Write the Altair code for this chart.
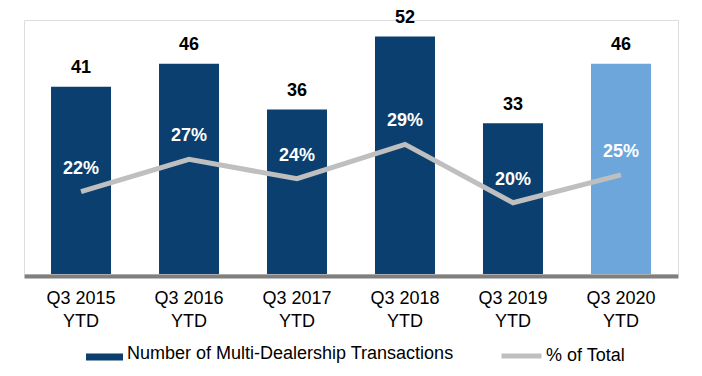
import altair as alt
import pandas as pd

periods = ["Q3 2015 YTD", "Q3 2016 YTD", "Q3 2017 YTD", "Q3 2018 YTD", "Q3 2019 YTD", "Q3 2020 YTD"]
transactions = [41, 46, 36, 52, 33, 46]
pct_of_total = [22.0, 27.0, 24.0, 29.3, 20.3, 24.6]

BAR_SERIES = "Number of Multi-Dealership Transactions"
LINE_SERIES = "% of Total"
NAVY = "#0B3F6F"
LIGHT = "#6CA6DA"
GRAY = "#BFBFBF"
FONT = "Liberation Sans"

df = pd.DataFrame({
    "period": periods,
    "count": transactions,
    "pct": pct_of_total,
    "bar_series": [BAR_SERIES] * len(periods),
    "line_series": [LINE_SERIES] * len(periods),
})

x_enc = alt.X(
    "period:N",
    sort=periods,
    title=None,
    scale=alt.Scale(paddingInner=0.444, paddingOuter=0.25),
    axis=alt.Axis(
        labelAngle=0,
        labelFont=FONT,
        labelFontSize=18,
        labelColor="#000000",
        labelPadding=13,
        labelLineHeight=23,
        labelBaseline="top",
        labelExpr="[replace(datum.label, ' YTD', ''), 'YTD']",
        ticks=False,
        domainColor="#7F7F7F",
        domainWidth=4,
        offset=2,
        grid=False,
    ),
)

y_bar = alt.Y("count:Q", axis=None, scale=alt.Scale(domain=[0, 55.6], nice=False, zero=True))
y_pct = alt.Y("pct:Q", axis=None, scale=alt.Scale(domain=[9.3, 48.5], nice=False, zero=False))

bars = alt.Chart(df).mark_bar(size=60).encode(
    x=x_enc,
    y=y_bar,
    color=alt.condition(
        alt.datum.period == "Q3 2020 YTD",
        alt.value(LIGHT),
        alt.Color(
            "bar_series:N",
            scale=alt.Scale(domain=[BAR_SERIES], range=[NAVY]),
            legend=alt.Legend(
                title=None,
                orient="none",
                legendX=62,
                legendY=315,
                symbolType="M-1,0H1V0.38H-1Z",
                symbolSize=1369,
                symbolStrokeWidth=0,
                labelFont=FONT,
                labelFontSize=18,
                labelColor="#000000",
                labelOffset=4,
                labelLimit=600,
                padding=0,
            ),
        ),
    ),
)

bar_labels = alt.Chart(df).mark_text(
    font=FONT, fontSize=18, fontWeight="bold", color="#000000", baseline="middle", dy=-18.5
).encode(x=x_enc, y=y_bar, text=alt.Text("count:Q"))

bar_layer = alt.layer(bars, bar_labels)

line = alt.Chart(df).mark_line(strokeWidth=5).encode(
    x=x_enc,
    y=y_pct,
    stroke=alt.Stroke(
        "line_series:N",
        scale=alt.Scale(domain=[LINE_SERIES], range=[GRAY]),
        legend=alt.Legend(
            title=None,
            orient="none",
            legendX=475,
            legendY=313.5,
            symbolType="stroke",
            symbolSize=1600,
            symbolStrokeWidth=5,
            labelFont=FONT,
            labelFontSize=18,
            labelColor="#000000",
            labelOffset=2,
            labelLimit=600,
            padding=0,
        ),
    ),
)

pct_text = alt.Chart(df).transform_calculate(
    lbl="format(datum.pct, '.0f') + '%'"
).mark_text(
    font=FONT, fontSize=18, fontWeight="bold", color="#FFFFFF", baseline="middle", dy=-23
).encode(x=x_enc, y=y_pct, text="lbl:N")

line_layer = alt.layer(line, pct_text)

chart = alt.layer(bar_layer, line_layer).resolve_scale(
    y="independent", color="independent", stroke="independent"
).properties(
    width=654,
    height=254,
    padding={"left": 16, "top": 0, "right": 5, "bottom": 5},
).configure_view(stroke=None).configure(background="#FFFFFF")

chart.save("out.html", embed_options={"renderer": "svg", "actions": False})
